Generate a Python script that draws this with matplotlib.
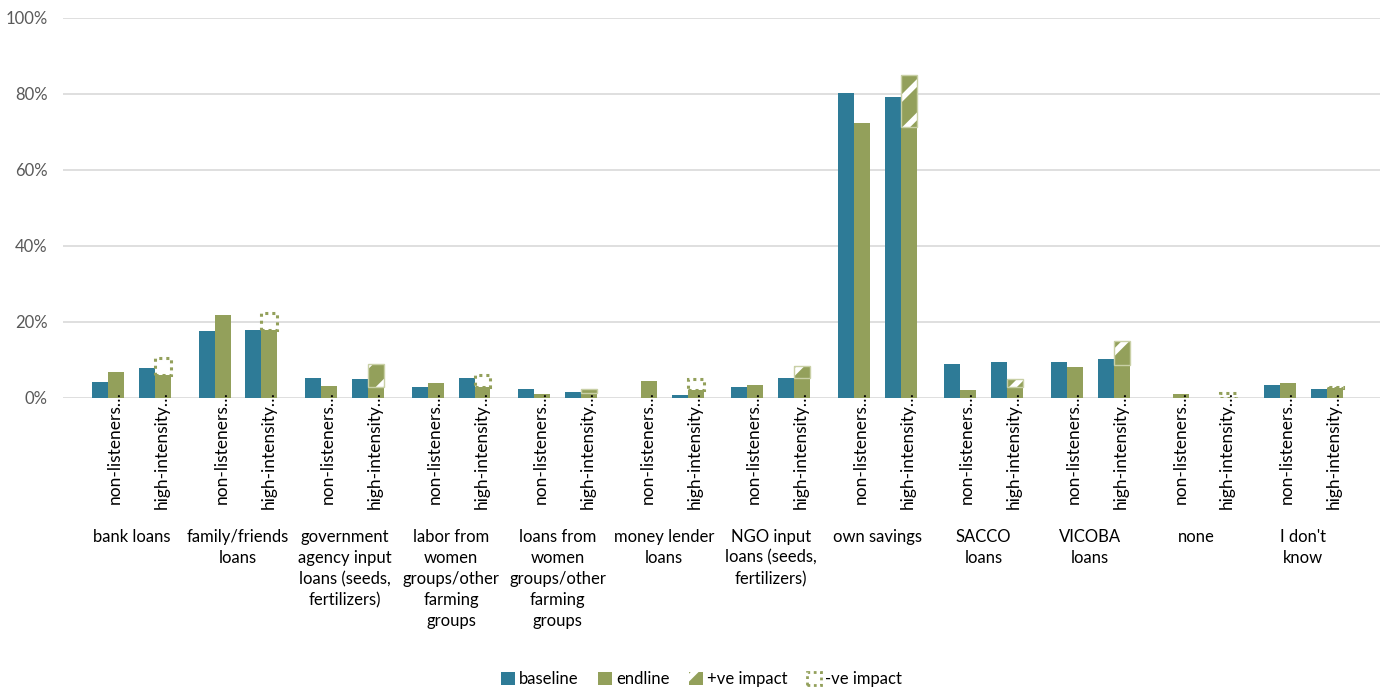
import numpy as np
import matplotlib.pyplot as plt
from matplotlib.patches import Patch

plt.rcParams['font.family'] = ['Lato', 'DejaVu Sans']
plt.rcParams['hatch.linewidth'] = 4

# data (% of respondents)
categories = ['bank loans', 'family/friends\nloans',
              'government\nagency input\nloans (seeds,\nfertilizers)',
              'labor from\nwomen\ngroups/other\nfarming\ngroups',
              'loans from\nwomen\ngroups/other\nfarming\ngroups',
              'money lender\nloans', 'NGO input\nloans (seeds,\nfertilizers)',
              'own savings', 'SACCO\nloans', 'VICOBA\nloans', 'none', "I don't\nknow"]
groups = ['non-listeners…', 'high-intensity…']
nl_base = [4.3, 17.6, 5.2, 3.0, 2.5, 0.0, 3.0, 80.3, 8.9, 9.6, 0.0, 3.4]
nl_end = [6.9, 21.8, 3.2, 3.9, 1.05, 4.6, 3.3, 72.3, 2.0, 8.2, 1.0, 3.9]
hi_base = [8.0, 17.9, 4.9, 5.3, 1.7, 0.9, 5.3, 79.3, 9.6, 10.3, 0.0, 2.3]
hi_end = [6.1, 17.9, 8.9, 3.0, 2.5, 2.1, 8.5, 85.0, 4.9, 15.1, 0.0, 2.6]
pos_impact = [0, 0, 5.9, 0, 1.2, 0, 3.2, 13.7, 1.9, 6.4, 0, 0]
neg_impact = [4.3, 4.5, 0, 3.1, 0, 2.9, 0, 0, 0, 0, 1.2, 0.4]

blue = '#2E7B97'
green = '#93A05B'

fig = plt.figure(figsize=(13.81, 6.91), dpi=100)
ax = fig.add_axes([63 / 1381, 1 - 398 / 691, (1380 - 63) / 1381, 380 / 691])

x = np.arange(len(categories))
off = 0.22
w = 0.15
nl_x = x - off
hi_x = x + off

ax.bar(nl_x - w / 2, nl_base, w, color=blue, zorder=3)
ax.bar(nl_x + w / 2, nl_end, w, color=green, zorder=3)
ax.bar(hi_x - w / 2, hi_base, w, color=blue, zorder=3)
ax.bar(hi_x + w / 2, hi_end, w, color=green, zorder=3)

pos = np.array(pos_impact)
neg = np.array(neg_impact)
he = np.array(hi_end)
m = pos > 0
ax.bar(hi_x[m] + w / 2, pos[m], w, bottom=he[m] - pos[m], facecolor=green,
       edgecolor='white', linewidth=0, hatch='/', zorder=4)
ax.bar(hi_x[m] + w / 2, pos[m], w, bottom=he[m] - pos[m], facecolor='none',
       edgecolor='#C9D0A6', linewidth=1, zorder=5)
m = neg > 0
ax.bar(hi_x[m] + w / 2, neg[m], w, bottom=he[m], facecolor='none',
       edgecolor=green, linewidth=2.2, linestyle=(0, (1, 1.3)), zorder=4)

ax.set_xlim(-0.643, 11.72)
ax.set_ylim(0, 100)
ax.set_yticks(range(0, 101, 20))
ax.set_yticklabels([f'{v}%' for v in range(0, 101, 20)])
ax.tick_params(axis='y', length=0, pad=11, labelsize=12, labelcolor='#595959')
ax.set_xticks([])
ax.grid(axis='y', color='#D9D9D9', linewidth=1.2, zorder=0)
for s in ax.spines.values():
    s.set_visible(False)

for i in range(len(categories)):
    for gx, g in zip([nl_x[i], hi_x[i]], groups):
        ax.annotate(g, xy=(gx + 0.065, 0), xytext=(0, 5), textcoords='offset points',
                    rotation=90, ha='center', va='top', fontsize=12.5, zorder=6)
    ax.annotate(categories[i], xy=(x[i], 0), xycoords=('data', 'axes fraction'),
                xytext=(0, -94), textcoords='offset points', ha='center', va='top',
                fontsize=12, linespacing=1.4)

handles = [Patch(facecolor=blue), Patch(facecolor=green),
           Patch(facecolor=green, edgecolor='white', linewidth=0, hatch='/'),
           Patch(facecolor='white', edgecolor=green, linewidth=2, linestyle=(0, (1, 1.3)))]
fig.legend(handles, ['baseline', 'endline', '+ve impact', '-ve impact'],
           loc='center', bbox_to_anchor=(0.508, 12 / 691), ncol=4, frameon=False,
           fontsize=12, handlelength=0.8, handleheight=0.8, handletextpad=0.25,
           columnspacing=1.2)

fig.savefig('out.png', dpi=100)
